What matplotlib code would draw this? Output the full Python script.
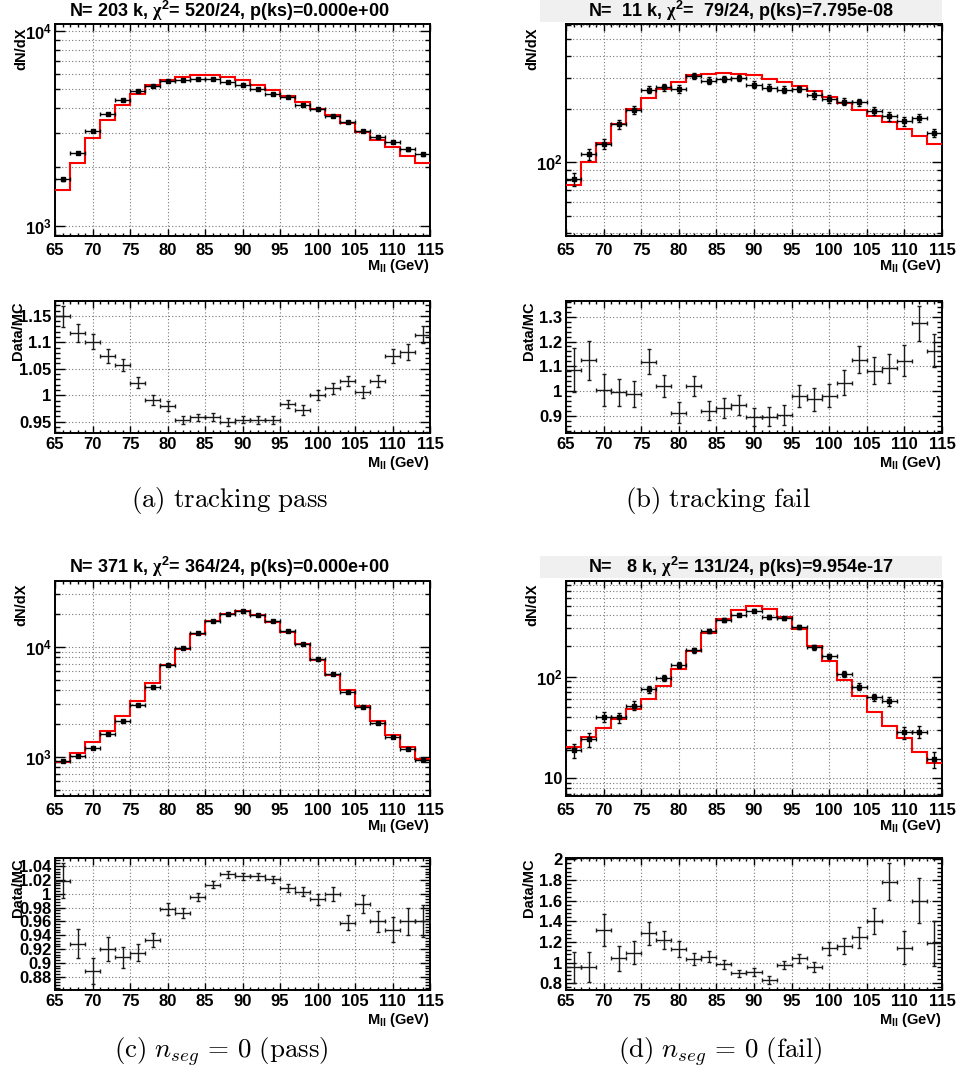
import numpy as np
import matplotlib
matplotlib.use('Agg')
import matplotlib.pyplot as plt
from matplotlib.patches import Rectangle
from matplotlib.ticker import (MultipleLocator, AutoMinorLocator, LogLocator,
                               FuncFormatter, NullFormatter)
from matplotlib.transforms import offset_copy

plt.rcParams['font.family'] = ['Liberation Sans', 'DejaVu Sans']
plt.rcParams['font.weight'] = 'bold'
plt.rcParams['mathtext.fontset'] = 'custom'
plt.rcParams['mathtext.rm'] = 'Liberation Sans:bold'
plt.rcParams['mathtext.bf'] = 'Liberation Sans:bold'
plt.rcParams['mathtext.it'] = 'Liberation Sans:bold:italic'
plt.rcParams['mathtext.sf'] = 'Liberation Serif'

# dilepton mass binning: 25 bins of 2 GeV
mass_edges = list(range(65, 116, 2))

# tracking pass
trk_pass_data = [1734, 2359, 3069, 3740, 4408, 4884, 5183, 5519, 5585, 5676, 5676, 5473, 5283,
                 5019, 4732, 4550, 4159, 3951, 3666, 3402, 3057, 2838, 2697, 2462, 2321]
trk_pass_mc = [1517, 2104, 2806, 3497, 4159, 4754, 5248, 5611, 5768, 5929, 5929, 5768, 5559,
               5283, 4977, 4642, 4289, 3981, 3697, 3350, 3036, 2750, 2521, 2286, 2091]
trk_pass_ratio = [1.149, 1.118, 1.101, 1.074, 1.057, 1.024, 0.991, 0.980, 0.953, 0.958, 0.959, 0.949, 0.954,
                  0.953, 0.953, 0.983, 0.972, 1.000, 1.013, 1.027, 1.006, 1.027, 1.074, 1.082, 1.114]
trk_pass_err = [0.020, 0.017, 0.014, 0.013, 0.012, 0.0095, 0.009, 0.009, 0.007, 0.007, 0.007, 0.007, 0.007,
                0.007, 0.007, 0.008, 0.009, 0.009, 0.010, 0.010, 0.011, 0.012, 0.013, 0.015, 0.016]

# tracking fail
trk_fail_data = [80.4, 111.5, 127, 163.6, 196.8, 257.7, 265.6, 259.9, 306.9, 289.8, 296.3, 298.8, 274.9,
                 264, 257.7, 259.9, 240.4, 228, 220.3, 218.3, 195.9, 181.7, 170.9, 177.8, 146.8]
trk_fail_mc = [74.3, 100, 128.2, 165.2, 199.2, 231.2, 259.9, 284.9, 309.8, 313.6, 317.8, 313.6, 309.8,
               297.2, 284.9, 269.4, 251.3, 233.9, 216.3, 196.8, 182.5, 168.6, 154.6, 141.1, 127.6]
trk_fail_ratio = [1.085, 1.124, 1.005, 0.995, 0.989, 1.119, 1.021, 0.913, 1.021, 0.921, 0.932, 0.944, 0.897,
                  0.897, 0.905, 0.981, 0.967, 0.981, 1.034, 1.126, 1.083, 1.092, 1.123, 1.273, 1.163]
trk_fail_err = [0.087, 0.079, 0.064, 0.056, 0.052, 0.050, 0.046, 0.042, 0.042, 0.038, 0.039, 0.040, 0.037,
                0.039, 0.041, 0.043, 0.045, 0.046, 0.050, 0.054, 0.056, 0.058, 0.062, 0.069, 0.067]

# nseg = 0 pass
seg_pass_data = [913, 1014, 1199, 1608, 2110, 2969, 4326, 6764, 9656, 13200, 17230, 19810, 20950,
                 19530, 17230, 13770, 10500, 7780, 5600, 3844, 2850, 2036, 1500, 1174, 932]
seg_pass_mc = [888, 1072, 1349, 1721, 2327, 3229, 4641, 6855, 9520, 13120, 17100, 19660, 21100,
               19400, 16760, 13590, 10500, 7620, 5560, 4010, 2890, 2124, 1585, 1216, 952]
seg_pass_ratio = [1.019, 0.928, 0.888, 0.920, 0.908, 0.915, 0.933, 0.978, 0.972, 0.995, 1.013, 1.028, 1.025,
                  1.025, 1.021, 1.008, 1.003, 0.992, 0.999, 0.958, 0.985, 0.960, 0.948, 0.960, 0.960]
seg_pass_err = [0.025, 0.021, 0.019, 0.017, 0.015, 0.012, 0.010, 0.009, 0.0075, 0.006, 0.005, 0.005, 0.005,
                0.005, 0.005, 0.006, 0.007, 0.008, 0.010, 0.011, 0.013, 0.015, 0.018, 0.020, 0.023]

# nseg = 0 fail
seg_fail_data = [19.0, 24.2, 40.5, 39.8, 51.9, 75.1, 96.9, 131.3, 182.9, 279, 361, 407, 446,
                 389, 377, 306, 194.5, 159.7, 107.1, 79.8, 62.7, 57.7, 28.3, 28.8, 15.4]
seg_fail_mc = [20.5, 25.3, 31.5, 38.6, 48.4, 59.8, 80.3, 118, 177.4, 266.6, 366, 456, 492,
               463, 383.7, 294.4, 201.8, 141.5, 92.7, 64.5, 45.3, 32.7, 25.1, 18.3, 14.1]
seg_fail_ratio = [0.955, 0.961, 1.316, 1.042, 1.097, 1.284, 1.219, 1.132, 1.035, 1.058, 0.984, 0.897, 0.910,
                  0.832, 0.977, 1.042, 0.961, 1.139, 1.165, 1.245, 1.406, 1.784, 1.145, 1.600, 1.187]
seg_fail_err = [0.15, 0.145, 0.15, 0.12, 0.11, 0.11, 0.09, 0.075, 0.06, 0.05, 0.045, 0.035, 0.035,
                0.035, 0.035, 0.045, 0.05, 0.065, 0.077, 0.10, 0.125, 0.18, 0.16, 0.22, 0.22]

titles = [r'N= 203 k, $\mathsf{\chi}^{2}$= 520/24, p(ks)=0.000e+00',
          r'N=  11 k, $\mathsf{\chi}^{2}$=  79/24, p(ks)=7.795e-08',
          r'N= 371 k, $\mathsf{\chi}^{2}$= 364/24, p(ks)=0.000e+00',
          r'N=   8 k, $\mathsf{\chi}^{2}$= 131/24, p(ks)=9.954e-17']
captions = [r'$\mathrm{(a)\ tracking\ pass}$',
            r'$\mathrm{(b)\ tracking\ fail}$',
            r'$\mathrm{(c)}\ n_{seg}\,=\,0\ \mathrm{(pass)}$',
            r'$\mathrm{(d)}\ n_{seg}\,=\,0\ \mathrm{(fail)}$']

W, H = 960, 1082
fig = plt.figure(figsize=(W / 100, H / 100), dpi=100)


def px_axes(x0, y0, x1, y1):
    return fig.add_axes([x0 / W, 1 - y1 / H, (x1 - x0) / W, (y1 - y0) / H])


def log_label(v, pos):
    e = int(round(np.log10(v)))
    if e == 1:
        return '10'
    return r'$\mathbf{10^{%d}}$' % e


grid_kw = dict(color='#777777', linestyle=(0, (1, 2)), linewidth=0.8)


def frame(ax, xpad):
    ax.set_xlim(65, 115)
    ax.xaxis.set_major_locator(MultipleLocator(5))
    ax.xaxis.set_minor_locator(MultipleLocator(1))
    ax.tick_params(which='both', direction='in', top=True, right=True, labelsize=12, width=1)
    ax.tick_params(axis='x', which='major', length=5, pad=xpad)
    ax.tick_params(axis='x', which='minor', length=2.5)
    ax.tick_params(axis='y', which='major', length=7, pad=2.5)
    ax.tick_params(axis='y', which='minor', length=3.5)
    for s in ax.spines.values():
        s.set_linewidth(1.4)
    ax.set_axisbelow(True)
    ax.text(1, 0, r'$\mathbf{M_{ll}}$ (GeV)', fontsize=10.5, ha='right', va='top',
            transform=offset_copy(ax.transAxes, fig=fig, x=0, y=-21, units='dots'))


def panel(x0, x1, main_y, ratio_y, title_y, data, mc, ratio, err, title, boxed,
          main_lim, ratio_lim, rstep, caption, caption_xy):
    edges = np.array(mass_edges)
    centers = edges[:-1] + 1
    data = np.array(data)
    ratio = np.array(ratio)
    err = np.array(err)

    # main panel: data points over the MC histogram
    ax = px_axes(x0, main_y[0], x1, main_y[1])
    ax.set_yscale('log')
    ax.stairs(mc, edges, baseline=None, color='red', linewidth=1.5, zorder=3)
    ax.errorbar(centers, data, xerr=1, yerr=data * err / ratio, fmt='s', ms=2.2,
                color='black', ecolor='black', elinewidth=1, capsize=1.5, capthick=1, zorder=4)
    ax.set_ylim(*main_lim)
    ax.yaxis.set_major_locator(LogLocator(10))
    ax.yaxis.set_minor_locator(LogLocator(10, subs=range(2, 10)))
    ax.yaxis.set_major_formatter(FuncFormatter(log_label))
    ax.yaxis.set_minor_formatter(NullFormatter())
    ax.grid(which='major', axis='x', **grid_kw)
    ax.grid(which='both', axis='y', **grid_kw)
    frame(ax, 5)
    ax.text(0, 1, 'dN/dX', fontsize=10.5, rotation=90, ha='center', va='top',
            transform=offset_copy(ax.transAxes, fig=fig, x=-34, y=-3, units='dots'))

    # title, with grey box for the fail categories
    tx0, tx1 = x0 - 26, x1
    if boxed:
        fig.patches.append(Rectangle((tx0 / W, 1 - (title_y + 11) / H), (tx1 - tx0) / W, 22 / H,
                                     transform=fig.transFigure, facecolor='#f0f0f0',
                                     edgecolor='none', figure=fig))
    fig.text((tx0 + tx1) / 2 / W, 1 - title_y / H, title, fontsize=13,
             ha='center', va='center')

    # ratio panel
    rx = px_axes(x0, ratio_y[0], x1, ratio_y[1])
    rx.errorbar(centers, ratio, xerr=1, yerr=err, fmt='none', ecolor='#1a1a1a',
                elinewidth=1, capsize=1.5, capthick=1, zorder=4)
    rx.set_ylim(*ratio_lim)
    rx.yaxis.set_major_locator(MultipleLocator(rstep))
    rx.yaxis.set_minor_locator(AutoMinorLocator(5))
    rx.yaxis.set_major_formatter(FuncFormatter(lambda v, p: '%g' % round(v, 4)))
    rx.grid(which='major', **grid_kw)
    frame(rx, 3)
    rx.text(0, 1, 'Data/MC', fontsize=10.5, rotation=90, ha='center', va='top',
            transform=offset_copy(rx.transAxes, fig=fig, x=-37, y=0, units='dots'))

    fig.text(caption_xy[0] / W, 1 - caption_xy[1] / H, caption, fontsize=19.4,
             ha='center', va='center', math_fontfamily='cm')


panel(55, 430, (24, 236), (301, 433), 11, trk_pass_data, trk_pass_mc, trk_pass_ratio, trk_pass_err,
      titles[0], False, (886, 10820), (0.9286, 1.178), 0.05, captions[0], (230, 500))
panel(566, 942, (24, 236), (301, 433), 11, trk_fail_data, trk_fail_mc, trk_fail_ratio, trk_fail_err,
      titles[1], True, (38.4, 604), (0.8315, 1.3633), 0.1, captions[1], (718, 500))
panel(55, 430, (581, 796), (858, 990), 567, seg_pass_data, seg_pass_mc, seg_pass_ratio, seg_pass_err,
      titles[2], False, (440, 39500), (0.8608, 1.0516), 0.02, captions[2], (221, 1052))
panel(566, 942, (581, 796), (858, 990), 567, seg_fail_data, seg_fail_mc, seg_fail_ratio, seg_fail_err,
      titles[3], True, (6.7, 873), (0.7355, 2.0126), 0.2, captions[3], (720, 1052))

fig.savefig('out.png', dpi=100)
